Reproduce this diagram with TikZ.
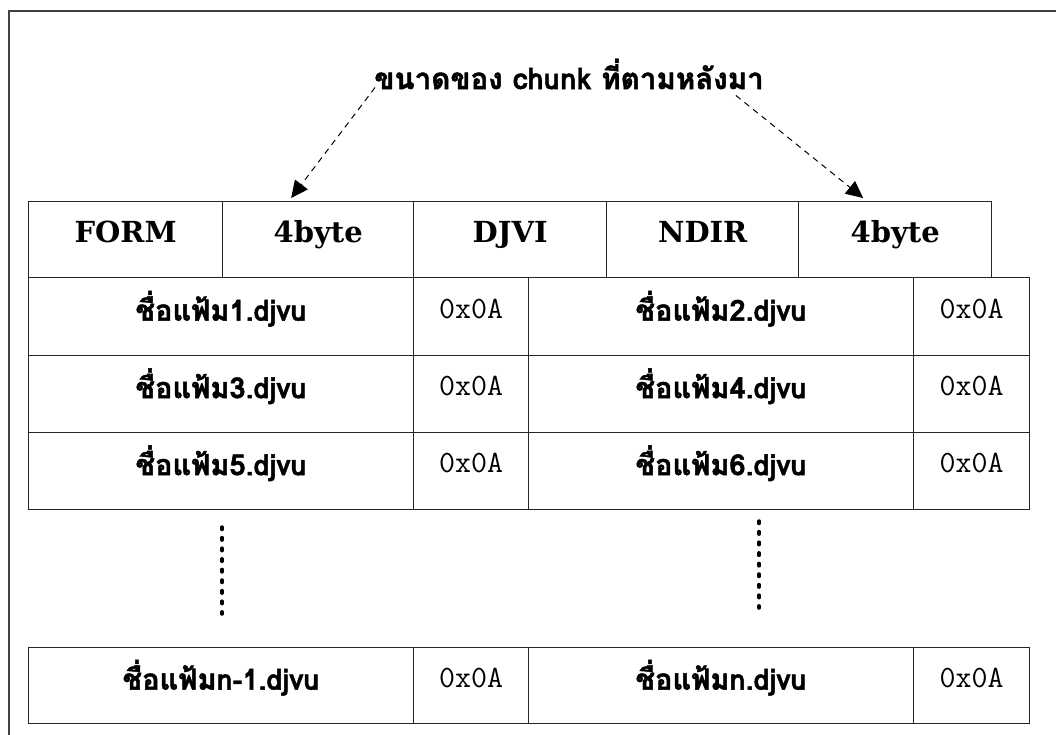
\documentclass[tikz,border=0pt]{standalone}
\usepackage{fontspec}
\usetikzlibrary{arrows.meta,calc}
\newfontfamily\thaifont[Script=Thai,BoldFeatures={FakeBold=1.5}]{Loma}
\newfontfamily\hdfont{DejaVu Serif}
\begin{document}
\begin{tikzpicture}[x=1pt,y=-1pt,
  cell/.style={draw=black!85,line width=1.3pt,inner sep=0pt,anchor=north west},
  hd/.style={cell,font=\hdfont\bfseries\fontsize{29}{32}\selectfont,text height=20pt,text depth=14pt},
  nm/.style={cell,font=\thaifont\bfseries\fontsize{29}{32}\selectfont,text height=28pt,text depth=20pt},
  hx/.style={cell,font=\ttfamily\fontsize{31}{34}\selectfont,text height=27pt,text depth=24pt},
  arr/.style={line width=1pt,dash pattern=on 6pt off 5pt,-{Triangle[length=17pt,width=16pt]}},
  dotcol/.style={line width=3.5pt,line cap=round,dash pattern=on 2.5pt off 8.1pt}
]
\useasboundingbox (0,0) rectangle (1056,734);
\fill[white] (0,0) rectangle (1056,734);
\draw[line width=2.2pt,draw=black!75] (9,760) -- (9,11) -- (1080,11);

% header row
\node[hd,minimum width=194pt,minimum height=76pt] (h1) at (28,201) {FORM};
\node[hd,minimum width=191pt,minimum height=76pt] (h2) at (222,201) {4byte};
\node[hd,minimum width=193pt,minimum height=76pt] (h3) at (413,201) {DJVI};
\node[hd,minimum width=192pt,minimum height=76pt] (h4) at (606,201) {NDIR};
\node[hd,minimum width=193pt,minimum height=76pt] (h5) at (798,201) {4byte};

% file name rows
\foreach \n/\y/\h/\a/\b in {1/277/78/1/2, 2/355/77/3/4, 3/432/77/5/6, 4/647/76/n-1/n} {
  \node[nm,minimum width=385pt,minimum height=\h pt] (r\n a) at (28,\y) {ชื่อแฟ้ม\a.djvu};
  \node[hx,minimum width=115pt,minimum height=\h pt] (r\n b) at (413,\y) {0x0A};
  \node[nm,minimum width=385pt,minimum height=\h pt] (r\n c) at (528,\y) {ชื่อแฟ้ม\b.djvu};
  \node[hx,minimum width=116pt,minimum height=\h pt] (r\n d) at (913,\y) {0x0A};
}

% continuation dots
\draw[dotcol] (222,527) -- (222,614);
\draw[dotcol] (759,521) -- (759,608);

% title and arrows
\node[font=\thaifont\bfseries\fontsize{29.5}{32}\selectfont,inner sep=0pt] (title) at (569,74) {ขนาดของ chunk ที่ตามหลังมา};
\draw[arr] ($(title.south west)+(1,-2)$) -- ([xshift=-27pt,yshift=3pt]h2.north);
\draw[arr] ($(title.south east)+(-28,6)$) -- ([xshift=-32pt,yshift=3pt]h5.north);
\end{tikzpicture}
\end{document}
